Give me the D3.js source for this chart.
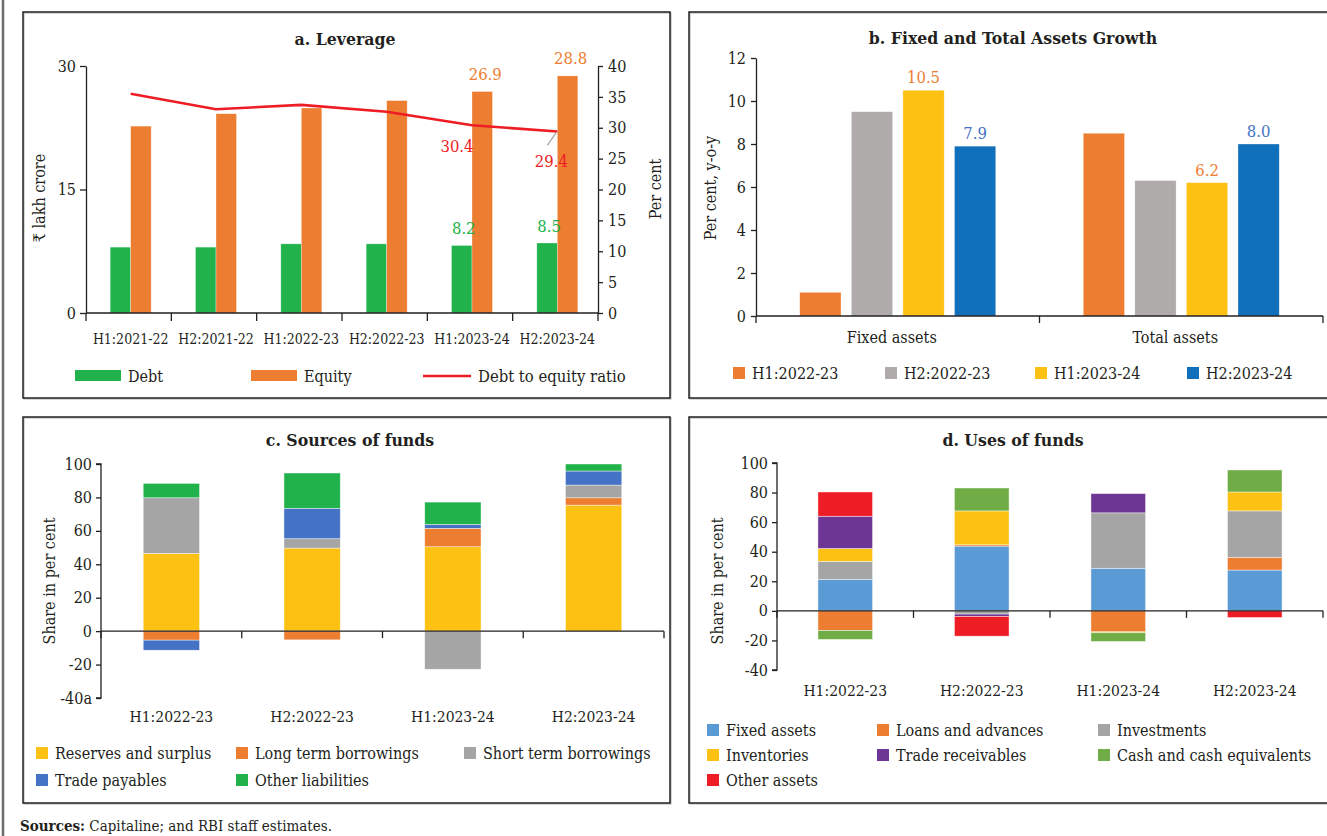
<!DOCTYPE html>
<html>
<head>
<meta charset="utf-8">
<script src="https://cdn.jsdelivr.net/npm/d3@7"></script>
<style>
  body { margin: 0; background: #fff; }
  svg text { font-family: "DejaVu Serif Condensed", "DejaVu Serif", serif; font-stretch: condensed; fill: #231f20; }
  .axis path, .axis line { stroke: #231f20; stroke-width: 1.3; }
</style>
</head>
<body>
<script>
// ---- a. Leverage ----
const periodsA = ['H1:2021-22', 'H2:2021-22', 'H1:2022-23', 'H2:2022-23', 'H1:2023-24', 'H2:2023-24'];
const debt = [8.0, 8.0, 8.4, 8.4, 8.2, 8.5];
const equity = [22.7, 24.2, 24.9, 25.8, 26.9, 28.8];
const debtEquityRatio = [35.5, 33.0, 33.7, 32.6, 30.4, 29.4];
const ticksLeftA = [0, 15, 30];
const ticksRightA = [0, 5, 10, 15, 20, 25, 30, 35, 40];

// ---- b. Fixed and Total Assets Growth ----
const groupsB = ['Fixed assets', 'Total assets'];
const periodsB = ['H1:2022-23', 'H2:2022-23', 'H1:2023-24', 'H2:2023-24'];
const growthH1_2223 = [1.1, 8.5];
const growthH2_2223 = [9.5, 6.3];
const growthH1_2324 = [10.5, 6.2];
const growthH2_2324 = [7.9, 8.0];
const ticksB = [0, 2, 4, 6, 8, 10, 12];

// ---- c. Sources of funds ----
const periodsC = ['H1:2022-23', 'H2:2022-23', 'H1:2023-24', 'H2:2023-24'];
const sourcesNames = ['Reserves and surplus', 'Long term borrowings', 'Short term borrowings', 'Trade payables', 'Other liabilities'];
const reservesSurplus = [46.5, 49.7, 50.5, 75.4];
const longTermBorrowings = [-5.4, -5.2, 11.0, 4.4];
const shortTermBorrowings = [33.3, 5.6, -22.8, 7.6];
const tradePayables = [-6.0, 18.2, 2.4, 8.4];
const otherLiabilities = [8.6, 21.1, 13.3, 4.2];
const ticksC = [100, 80, 60, 40, 20, 0, -20, -40];
const tickLabelsC = ['100', '80', '60', '40', '20', '0', '-20', '-40a'];

// ---- d. Uses of funds ----
const usesNames = ['Fixed assets', 'Loans and advances', 'Investments', 'Inventories', 'Trade receivables', 'Cash and cash equivalents', 'Other assets'];
const fixedAssets = [21.3, 43.8, 28.8, 27.6];
const loansAdvances = [-13.3, 0.9, -14.2, 8.6];
const investments = [12.2, -2.2, 37.5, 31.4];
const inventories = [8.7, 22.9, -0.6, 12.8];
const tradeReceivables = [21.8, -1.6, 13.0, 0];
const cashEquivalents = [-6.0, 15.5, -5.9, 14.9];
const otherAssets = [16.4, -13.3, 0, -4.5];
const ticksD = [100, 80, 60, 40, 20, 0, -20, -40];

const C = {
  green: '#21b24b', orange: '#ed7d31', red: '#ee1c25', warmGray: '#afabab',
  yellow: '#fcc113', darkBlue: '#1170bb', gray: '#a5a5a5', blue: '#4472c4',
  lightBlue: '#5b9bd5', purple: '#6d3695', leaf: '#70ad47', labelBlue: '#4472c4'
};

const svg = d3.select('body').append('svg')
    .attr('width', 1327).attr('height', 836)
    .style('display', 'block');

svg.append('rect').attr('width', 1327).attr('height', 836).attr('fill', '#fff');

// outer left rule and panel frames
svg.append('line').attr('x1', 3).attr('x2', 3).attr('y1', 0).attr('y2', 836)
    .attr('stroke', '#6d6d6d').attr('stroke-width', 2.5);

[[23, 12, 647, 386], [689, 12, 660, 386], [23, 417, 647, 386], [689, 417, 660, 386]].forEach(f => {
  svg.append('rect').attr('x', f[0] + 1).attr('y', f[1] + 1).attr('width', f[2]).attr('height', f[3])
      .attr('fill', 'none').attr('stroke', '#bbb').attr('stroke-width', 1.2);
  svg.append('rect').attr('x', f[0]).attr('y', f[1]).attr('width', f[2]).attr('height', f[3])
      .attr('fill', 'none').attr('stroke', '#231f20').attr('stroke-width', 1.5);
});

const sources = svg.append('text').attr('x', 20).attr('y', 831).style('font-size', '15px');
sources.append('tspan').style('font-weight', 'bold').text('Sources:');
sources.append('tspan').text(' Capitaline; and RBI staff estimates.');

function title(x, y, t) {
  svg.append('text').attr('x', x).attr('y', y).attr('text-anchor', 'middle')
      .style('font-size', '17.5px').style('font-weight', 'bold').text(t);
}

function yTitle(x, y, t) {
  svg.append('text').attr('transform', `translate(${x},${y}) rotate(-90)`)
      .attr('text-anchor', 'middle').style('font-size', '16px').text(t);
}

function styleAxis(g, size) {
  g.attr('class', 'axis');
  g.selectAll('text').style('font-size', size).style('font-family', null).attr('fill', '#231f20');
}

// category boundary ticks hanging below a baseline
function boundaryTicks(x, yPos, len) {
  const edges = x.domain().map(d => x(d) - x.step() * x.paddingOuter()).concat([x.range()[1]]);
  svg.append('g').selectAll('line').data(edges).join('line')
      .attr('x1', d => d).attr('x2', d => d)
      .attr('y1', yPos).attr('y2', yPos + len)
      .attr('stroke', '#231f20').attr('stroke-width', 1.3);
}

function legendItem(x, y, color, label, w) {
  svg.append('rect').attr('x', x).attr('y', y - 6).attr('width', w || 12).attr('height', w ? 11 : 12).attr('fill', color);
  svg.append('text').attr('x', x + (w || 12) + 7).attr('y', y + 5.5).style('font-size', '16px').text(label);
}

// ================= a. Leverage =================
(function () {
  const x0 = d3.scaleBand().domain(periodsA).range([86, 598]);
  const x1 = d3.scaleBand().domain(['Debt', 'Equity']).range([0, 41]);
  const yL = d3.scaleLinear().domain([0, 30]).range([313, 66]);
  const yR = d3.scaleLinear().domain([0, 40]).range([313, 66]);
  const cx = d => x0(d) + x0.bandwidth() / 2;
  const off = (x0.bandwidth() - x1.range()[1]) / 2 + 2;

  title(345, 45, 'a. Leverage');

  const g = svg.append('g');
  g.selectAll('rect.debt').data(periodsA).join('rect').attr('class', 'debt')
      .attr('x', d => x0(d) + off + x1('Debt')).attr('width', x1.bandwidth())
      .attr('y', (d, i) => yL(debt[i])).attr('height', (d, i) => yL(0) - yL(debt[i]))
      .attr('fill', C.green).attr('stroke', '#fff').attr('stroke-opacity', 0.5).attr('stroke-width', 0.6);
  g.selectAll('rect.eq').data(periodsA).join('rect').attr('class', 'eq')
      .attr('x', d => x0(d) + off + x1('Equity')).attr('width', x1.bandwidth())
      .attr('y', (d, i) => yL(equity[i])).attr('height', (d, i) => yL(0) - yL(equity[i]))
      .attr('fill', C.orange).attr('stroke', '#fff').attr('stroke-opacity', 0.5).attr('stroke-width', 0.6);

  const line = d3.line().x((d, i) => cx(periodsA[i]) + 2).y(d => yR(d));
  g.append('path').datum(debtEquityRatio).attr('d', line)
      .attr('fill', 'none').attr('stroke', C.red).attr('stroke-width', 2.6);

  // data labels for the last two periods
  [4, 5].forEach(i => {
    const p = periodsA[i];
    g.append('text').attr('x', x0(p) + off + x1('Equity') + x1.bandwidth() / 2 + 3).attr('y', yL(equity[i]) - 12)
        .attr('text-anchor', 'middle').style('fill', C.orange).style('font-size', '16.5px')
        .text(equity[i].toFixed(1));
    g.append('text').attr('x', x0(p) + off + x1('Debt') + x1.bandwidth() / 2 + 2).attr('y', yL(debt[i]) - 11)
        .attr('text-anchor', 'middle').style('fill', C.green).style('font-size', '16.5px')
        .text(debt[i].toFixed(1));
  });
  g.append('text').attr('x', cx(periodsA[4]) - 13).attr('y', yR(debtEquityRatio[4]) + 27)
      .attr('text-anchor', 'middle').style('fill', C.red).style('font-size', '16.5px').text(debtEquityRatio[4].toFixed(1));
  g.append('text').attr('x', cx(periodsA[5]) - 4).attr('y', yR(debtEquityRatio[5]) + 36)
      .attr('text-anchor', 'middle').style('fill', C.red).style('font-size', '16.5px').text(debtEquityRatio[5].toFixed(1));
  g.append('line').attr('x1', cx(periodsA[5]) - 8).attr('y1', yR(debtEquityRatio[5]) + 14)
      .attr('x2', cx(periodsA[5]) + 1).attr('y2', yR(debtEquityRatio[5]) + 1)
      .attr('stroke', '#a6a6a6').attr('stroke-width', 1.3);

  const axL = svg.append('g').attr('transform', 'translate(86,0)')
      .call(d3.axisLeft(yL).tickValues(ticksLeftA).tickSize(6).tickSizeOuter(0).tickPadding(4));
  styleAxis(axL, '16px');
  const axR = svg.append('g').attr('transform', 'translate(598,0)')
      .call(d3.axisRight(yR).tickValues(ticksRightA).tickSize(5).tickSizeOuter(0).tickPadding(5));
  styleAxis(axR, '16px');

  svg.append('line').attr('x1', 86).attr('x2', 598).attr('y1', 313).attr('y2', 313)
      .attr('stroke', '#231f20').attr('stroke-width', 1.3);
  boundaryTicks(x0, 313, 8);
  svg.append('g').selectAll('text').data(periodsA).join('text')
      .attr('x', d => cx(d) + 2).attr('y', 344).attr('text-anchor', 'middle')
      .style('font-size', '14px').text(d => d);

  yTitle(45, 198, '₹ lakh crore');
  yTitle(661, 189, 'Per cent');

  legendItem(75, 376, C.green, 'Debt', 46);
  legendItem(251, 376, C.orange, 'Equity', 46);
  svg.append('line').attr('x1', 423).attr('x2', 471).attr('y1', 376).attr('y2', 376)
      .attr('stroke', C.red).attr('stroke-width', 2.6);
  svg.append('text').attr('x', 478).attr('y', 381.5).style('font-size', '16.5px').text('Debt to equity ratio');
})();

// ================= b. Fixed and Total Assets Growth =================
(function () {
  const seriesB = [growthH1_2223, growthH2_2223, growthH1_2324, growthH2_2324];
  const colorsB = [C.orange, C.warmGray, C.yellow, C.darkBlue];
  const x0 = d3.scaleBand().domain(groupsB).range([756, 1323]);
  const x1 = d3.scaleBand().domain(periodsB).range([0, 196]).paddingInner(0.2);
  const y = d3.scaleLinear().domain([0, 12]).range([316, 58]);
  const off = (x0.bandwidth() - 196) / 2;

  title(1013, 44, 'b. Fixed and Total Assets Growth');

  const g = svg.append('g');
  periodsB.forEach((p, k) => {
    g.selectAll(null).data(groupsB).join('rect')
        .attr('x', d => x0(d) + off + x1(p)).attr('width', x1.bandwidth())
        .attr('y', (d, i) => y(seriesB[k][i])).attr('height', (d, i) => y(0) - y(seriesB[k][i]))
        .attr('fill', colorsB[k]).attr('stroke', '#fff').attr('stroke-opacity', 0.5).attr('stroke-width', 0.6);
  });

  // labels: latest two periods
  [[2, C.orange], [3, C.labelBlue]].forEach(([k, col]) => {
    g.selectAll(null).data(groupsB).join('text')
        .attr('x', d => x0(d) + off + x1(periodsB[k]) + x1.bandwidth() / 2)
        .attr('y', (d, i) => y(seriesB[k][i]) - 7)
        .attr('text-anchor', 'middle').style('fill', col).style('font-size', '16.5px')
        .text((d, i) => seriesB[k][i].toFixed(1));
  });

  const ax = svg.append('g').attr('transform', 'translate(756,0)')
      .call(d3.axisLeft(y).tickValues(ticksB).tickSize(5).tickSizeOuter(0).tickPadding(5));
  styleAxis(ax, '16px');

  svg.append('line').attr('x1', 756).attr('x2', 1323).attr('y1', 316).attr('y2', 316)
      .attr('stroke', '#231f20').attr('stroke-width', 1.3);
  boundaryTicks(x0, 316, 7);
  svg.append('g').selectAll('text').data(groupsB).join('text')
      .attr('x', d => x0(d) + x0.bandwidth() / 2 - 6).attr('y', 343).attr('text-anchor', 'middle')
      .style('font-size', '16px').text(d => d);

  yTitle(716, 188, 'Per cent, y-o-y');

  const lx = [733, 885, 1035, 1187];
  periodsB.forEach((p, k) => legendItem(lx[k], 373, colorsB[k], p));
})();

// stacked diverging bars for c and d
function stackedPanel(opts) {
  const rows = opts.periods.map((p, i) => {
    const r = { period: p };
    opts.names.forEach((n, k) => { r[n] = opts.values[k][i]; });
    return r;
  });
  const stacked = d3.stack().keys(opts.names).offset(d3.stackOffsetDiverging)(rows);
  const x = d3.scaleBand().domain(opts.periods).range(opts.xRange).paddingInner(0.6).paddingOuter(0.3);
  const y = d3.scaleLinear().domain([-40, 100]).range(opts.yRange);

  title(opts.titleX, opts.titleY, opts.title);

  const g = svg.append('g');
  g.selectAll('g').data(stacked).join('g').attr('fill', (d, k) => opts.colors[k])
    .selectAll('rect').data(d => d.filter(s => s[1] !== s[0])).join('rect')
      .attr('x', d => x(d.data.period)).attr('width', x.bandwidth())
      .attr('y', d => y(d[1])).attr('height', d => y(d[0]) - y(d[1]))
      .attr('stroke', '#fff').attr('stroke-opacity', 0.6).attr('stroke-width', 0.7);

  const ax = svg.append('g').attr('transform', `translate(${opts.xRange[0]},0)`)
      .call(d3.axisLeft(y).tickValues(opts.ticks).tickSize(5).tickSizeOuter(0).tickPadding(4)
        .tickFormat((d, i) => opts.tickLabels[i]));
  styleAxis(ax, '16px');
  ax.select('.domain').attr('d', `M-5,${y(-40)}H0V${y(100)}H-5`);

  svg.append('line').attr('x1', opts.xRange[0]).attr('x2', opts.xRange[1]).attr('y1', y(0)).attr('y2', y(0))
      .attr('stroke', '#231f20').attr('stroke-width', 1.3);
  boundaryTicks(x, y(0), 7);
  svg.append('g').selectAll('text').data(opts.periods).join('text')
      .attr('x', d => x(d) + x.bandwidth() / 2).attr('y', opts.labelY).attr('text-anchor', 'middle')
      .style('font-size', '15.5px').text(d => d);

  yTitle(opts.yTitleX, 581, 'Share in per cent');

  opts.names.forEach((n, k) => legendItem(opts.legendX[k % 3], opts.legendY[Math.floor(k / 3)], opts.colors[k], n));
}

// ================= c. Sources of funds =================
stackedPanel({
  title: 'c. Sources of funds', titleX: 350, titleY: 446,
  periods: periodsC, names: sourcesNames,
  values: [reservesSurplus, longTermBorrowings, shortTermBorrowings, tradePayables, otherLiabilities],
  colors: [C.yellow, C.orange, C.gray, C.blue, C.green],
  xRange: [101, 664], yRange: [698, 464],
  ticks: ticksC, tickLabels: tickLabelsC,
  labelY: 722, yTitleX: 55,
  legendX: [36, 236, 464], legendY: [753, 780]
});

// ================= d. Uses of funds =================
stackedPanel({
  title: 'd. Uses of funds', titleX: 1013, titleY: 446,
  periods: periodsC, names: usesNames,
  values: [fixedAssets, loansAdvances, investments, inventories, tradeReceivables, cashEquivalents, otherAssets],
  colors: [C.lightBlue, C.orange, C.gray, C.yellow, C.purple, C.leaf, C.red],
  xRange: [777, 1323], yRange: [670, 463],
  ticks: ticksD, tickLabels: ticksD.map(String),
  labelY: 696, yTitleX: 723,
  legendX: [707, 877, 1098], legendY: [730, 755, 780]
});
</script>
</body>
</html>
